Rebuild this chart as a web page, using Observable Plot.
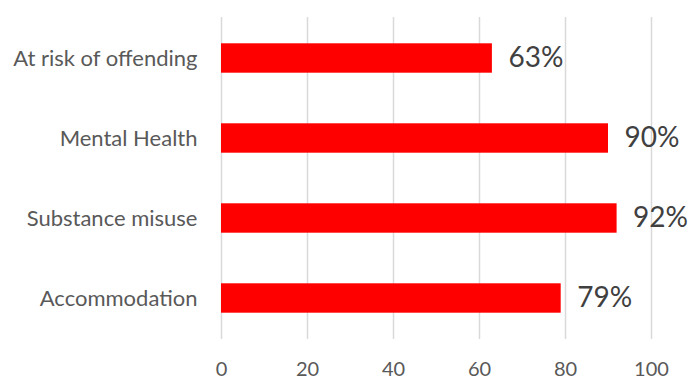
<!DOCTYPE html>
<html>
<head>
<meta charset="utf-8">
<script src="https://cdn.jsdelivr.net/npm/d3@7"></script>
<script src="https://cdn.jsdelivr.net/npm/@observablehq/plot@0.6"></script>
<style>
  html, body { margin: 0; padding: 0; background: #fff; }
  #chart svg { display: block; }
</style>
</head>
<body>
<div id="chart"></div>
<script>
const categories = ["At risk of offending", "Mental Health", "Substance misuse", "Accommodation"];
const values = [63, 90, 92, 79];
const xTicks = [0, 20, 40, 60, 80, 100];

const data = categories.map((c, i) => ({category: c, value: values[i]}));

const chart = Plot.plot({
  width: 688,
  height: 379,
  marginTop: 17,
  marginBottom: 40,
  marginLeft: 221,
  marginRight: 37,
  style: {fontFamily: "Lato, 'Open Sans', sans-serif", background: "#fff"},
  x: {domain: [0, 100]},
  y: {domain: categories, padding: 0},
  marks: [
    Plot.ruleX(xTicks, {stroke: "#d9d9d9", strokeWidth: 1.5}),
    Plot.barX(data, {x: "value", y: "category", fill: "#ff0000", insetTop: 25.3, insetBottom: 25.3}),
    Plot.text(data, {x: "value", y: "category", text: d => d.value + "%", textAnchor: "start", dx: 16, fontSize: 28, fill: "#404040"}),
    Plot.axisX(xTicks, {tickSize: 0, tickPadding: 22, fontSize: 20, fill: "#595959", label: null}),
    Plot.axisY({tickSize: 0, tickPadding: 24, fontSize: 22, fill: "#595959", label: null})
  ]
});
document.getElementById("chart").appendChild(chart);
</script>
</body>
</html>
